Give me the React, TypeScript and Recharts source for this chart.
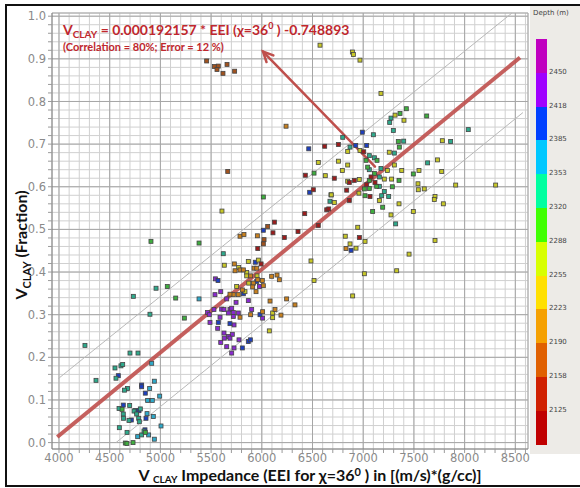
import React from "react";
import {
  ScatterChart,
  Scatter,
  XAxis,
  YAxis,
  CartesianGrid,
  ReferenceLine,
} from "recharts";

// EEI (x) vs Vclay (y) samples, grouped by the colour of their depth band
const darkRedPts = [
  [6423, 0.537], [6640, 0.546], [6660, 0.548], [6557, 0.509], [6124, 0.517],
  [6110, 0.492], [6222, 0.481], [6357, 0.495], [5960, 0.455], [5993, 0.419],
  [6620, 0.695], [6755, 0.699], [6429, 0.627], [6715, 0.62], [6508, 0.593],
  [7005, 0.682], [7077, 0.623], [6912, 0.615], [6863, 0.61], [7116, 0.61],
  [7034, 0.605], [6837, 0.592], [7067, 0.577], [6962, 0.481], [6863, 0.568],
];
const brownPts = [
  [6058, 0.507], [6022, 0.476], [6015, 0.466], [5664, 0.636], [5456, 0.895],
  [5532, 0.882], [5571, 0.883], [5558, 0.875], [5657, 0.887], [5617, 0.866],
  [5732, 0.871],
];
const orangePts = [
  [5785, 0.484], [5824, 0.488], [5956, 0.485], [5729, 0.419], [5736, 0.403],
  [5785, 0.405], [5818, 0.405], [5923, 0.409], [5950, 0.409], [5890, 0.391],
  [5960, 0.382], [6005, 0.38], [5917, 0.374], [6015, 0.368], [6097, 0.39],
  [6150, 0.393], [6173, 0.382], [5910, 0.365], [5808, 0.358], [5768, 0.347],
  [5943, 0.354], [5719, 0.347], [5686, 0.348], [6081, 0.332], [6245, 0.337],
  [6327, 0.323], [5890, 0.3], [6008, 0.307], [6130, 0.312], [6189, 0.299],
  [5785, 0.294], [6239, 0.742], [6830, 0.455],
];
const yellowPts = [
  [5607, 0.543], [5630, 0.416], [6715, 0.563], [5966, 0.428], [5867, 0.425],
  [5772, 0.411], [5851, 0.399], [5851, 0.391], [5953, 0.391], [5871, 0.374],
  [5752, 0.366], [5834, 0.354], [6107, 0.304], [6107, 0.293], [6074, 0.262],
  [6557, 0.657], [6755, 0.66], [6626, 0.626], [7175, 0.819], [7314, 0.768],
  [7402, 0.756], [6968, 0.685], [6847, 0.683], [7257, 0.681], [6794, 0.638],
  [6847, 0.651], [7238, 0.638], [7307, 0.651], [7380, 0.638], [7550, 0.638],
  [7733, 0.663], [7208, 0.618], [7280, 0.618], [6847, 0.613], [6961, 0.617],
  [6958, 0.585], [7543, 0.593], [7602, 0.595], [7708, 0.577], [6574, 0.932],
  [6893, 0.916], [6903, 0.91], [6968, 0.897], [7780, 0.708], [7774, 0.636],
  [7912, 0.604], [8306, 0.604], [7540, 0.607], [7701, 0.57], [7790, 0.56],
  [7494, 0.542], [7353, 0.56], [7274, 0.534], [7159, 0.568], [6946, 0.505],
  [6823, 0.484], [7018, 0.472], [6870, 0.466], [6929, 0.456], [7708, 0.474],
  [7452, 0.442], [7330, 0.403], [7011, 0.396], [6485, 0.426], [6515, 0.38],
  [6896, 0.344], [6685, 0.581],
];
const greenPts = [
  [4622, 0.078], [4851, 0.024], [4654, -0.001], [4670, -0.002], [4730, 0.0],
  [4907, 0.472], [5381, 0.468], [5068, 0.366], [5151, 0.339], [5236, 0.292],
  [6015, 0.576], [6515, 0.632], [6682, 0.581], [7425, 0.783], [7626, 0.766],
  [7363, 0.772], [7346, 0.706], [7356, 0.693], [7136, 0.662], [7028, 0.662],
  [7044, 0.646], [7494, 0.63], [7110, 0.631], [7353, 0.615], [7060, 0.615],
  [7133, 0.601], [7011, 0.595], [7060, 0.596], [7287, 0.6], [7018, 0.579],
  [7192, 0.552], [7093, 0.542],
];
const tealPts = [
  [4256, 0.228], [4365, 0.146], [4700, 0.21], [4779, 0.21], [4552, 0.175],
  [4611, 0.18], [4628, 0.183], [4562, 0.151], [4676, 0.127], [4646, 0.123],
  [4592, 0.08], [4697, 0.087], [4634, 0.067], [4637, 0.057], [4802, 0.079],
  [4740, 0.074], [4766, 0.067], [4690, 0.052], [4786, 0.057], [4792, 0.049],
  [4595, 0.035], [4671, 0.024], [4815, 0.018], [4838, 0.027], [4733, 0.343],
  [4957, 0.362], [4897, 0.301], [5620, 0.443], [6672, 0.566], [6798, 0.716],
  [7100, 0.722], [7297, 0.732], [7399, 0.707], [6870, 0.693], [7307, 0.679],
  [7060, 0.673], [7110, 0.668], [7060, 0.64], [7175, 0.643], [7635, 0.656],
  [7159, 0.623], [7159, 0.601], [7182, 0.579], [7251, 0.577], [7208, 0.589],
  [7274, 0.761], [7261, 0.751], [8036, 0.734], [7862, 0.706], [7320, 0.513],
];
const cyanPts = [
  [4914, 0.186], [4940, 0.144], [4894, 0.127], [4874, 0.099], [4920, 0.099],
  [4993, 0.109], [4868, 0.068], [4930, 0.061], [4776, 0.014], [4884, 0.018],
  [4940, 0.008], [5006, 0.039], [5381, 0.337],
];
const bluePts = [
  [4585, 0.157], [4815, 0.135], [4815, 0.131], [4851, 0.116], [4634, 0.088],
  [4752, 0.075], [4766, 0.072], [4789, 0.075], [4713, 0.053], [4858, 0.057],
  [4848, 0.03], [6015, 0.498], [5936, 0.423], [5950, 0.378], [5818, 0.349],
  [5568, 0.38], [5982, 0.3], [5571, 0.282], [5686, 0.279], [5808, 0.222],
  [5867, 0.237], [5887, 0.241], [6463, 0.689], [6472, 0.587], [6991, 0.728],
  [6926, 0.697], [7034, 0.697], [6880, 0.451],
];
const purplePts = [
  [5976, 0.366], [5542, 0.384], [5595, 0.354], [5538, 0.347], [5654, 0.337],
  [5867, 0.333], [5746, 0.329], [5465, 0.305], [5528, 0.312], [5604, 0.313],
  [5627, 0.312], [5686, 0.312], [5703, 0.315], [5670, 0.304], [5719, 0.305],
  [5768, 0.304], [5900, 0.312], [6008, 0.292], [5482, 0.3], [5588, 0.294],
  [5719, 0.296], [5489, 0.282], [5726, 0.276], [5565, 0.268], [5627, 0.257],
  [5709, 0.254], [5670, 0.249], [5630, 0.245], [5686, 0.245], [5775, 0.241],
  [5595, 0.235], [5654, 0.225], [5726, 0.222], [5703, 0.21],
];

// regression line and its +/- error lines
const fitLine = [[3983, 0.013], [8546, 0.903]];
const upperBound = [[3993, 0.15], [8467, 1.0075]];
const lowerBound = [[4562, 0.0], [8575, 0.774]];
const arrowFromTo = [[7116, 0.647], [6012, 0.917]];

const xTickLabels = [4000, 4500, 5000, 5500, 6000, 6500, 7000, 7500, 8000, 8500];
const yTickLabels = [0.0, 0.1, 0.2, 0.3, 0.4, 0.5, 0.6, 0.7, 0.8, 0.9, 1.0];

const depthLabels = [2450, 2418, 2385, 2353, 2320, 2288, 2255, 2223, 2190, 2158, 2125];
const depthColors = [
  "#c000c0", "#a000ff", "#0040ff", "#00c8ff", "#00ffa0", "#40ff00",
  "#d8ff00", "#ffe000", "#f5a000", "#e06000", "#d02000", "#c00000",
];

const groups = [
  { name: "purple", color: "#8a2ad0", pts: purplePts },
  { name: "blue", color: "#1d3fbf", pts: bluePts },
  { name: "cyan", color: "#2fa9c9", pts: cyanPts },
  { name: "teal", color: "#2eaa8c", pts: tealPts },
  { name: "green", color: "#3fae3f", pts: greenPts },
  { name: "yellow", color: "#c8c828", pts: yellowPts },
  { name: "orange", color: "#c8801e", pts: orangePts },
  { name: "brown", color: "#a0521e", pts: brownPts },
  { name: "darkred", color: "#9b1c1c", pts: darkRedPts },
];

const xMinor: number[] = [];
for (let v = 4000; v <= 8600; v += 100) xMinor.push(v);
const yMinor: number[] = [];
for (let i = 0; i <= 50; i++) yMinor.push(Math.round(i * 2) / 100);

const RED = "#c0272d";
const LINE_RED = "#bf4f4c";

const toSeg = (seg: number[][]) => seg.map(([x, y]) => ({ x, y }));

const squareShape = (color: string) => (props: any) => {
  const { cx, cy } = props;
  if (cx == null || cy == null) return <g />;
  return (
    <rect
      x={cx - 2}
      y={cy - 2}
      width={4}
      height={4}
      fill={color}
      stroke="#444"
      strokeWidth={0.8}
    />
  );
};

const ArrowShape = (props: any) => {
  const { x1, y1, x2, y2 } = props;
  if (x1 == null) return <g />;
  const ang = Math.atan2(y2 - y1, x2 - x1);
  const len = 11;
  const spread = 0.45;
  const ax = x2 - len * Math.cos(ang - spread);
  const ay = y2 - len * Math.sin(ang - spread);
  const bx = x2 - len * Math.cos(ang + spread);
  const by = y2 - len * Math.sin(ang + spread);
  return (
    <g stroke={LINE_RED} strokeWidth={2.5} strokeLinecap="round" fill="none">
      <line x1={x1} y1={y1} x2={x2} y2={y2} />
      <polyline points={`${ax},${ay} ${x2},${y2} ${bx},${by}`} />
    </g>
  );
};

export default function App() {
  return (
    <div
      style={{
        position: "absolute",
        left: 0,
        top: 0,
        width: 580,
        height: 488,
        background: "#fff",
        overflow: "hidden",
        fontFamily: "Lato, 'DejaVu Sans', sans-serif",
      }}
    >
      {/* colour bar panel */}
      <div
        style={{
          position: "absolute",
          left: 530,
          top: 6,
          width: 50,
          height: 448,
          background: "#edebe7",
        }}
      />
      <div
        style={{
          position: "absolute",
          left: 533,
          top: 9,
          fontSize: 7,
          color: "#444",
          fontFamily: "'DejaVu Sans', sans-serif",
        }}
      >
        Depth (m)
      </div>
      {depthColors.map((c, i) => (
        <div
          key={c}
          style={{
            position: "absolute",
            left: 536,
            top: 39 + i * 33.8,
            width: 11,
            height: 33.8,
            background: c,
          }}
        />
      ))}
      {depthLabels.map((d, i) => (
        <div
          key={d}
          style={{
            position: "absolute",
            left: 549,
            top: 39 + (i + 1) * 33.8 - 5,
            fontSize: 7,
            color: "#444",
            fontFamily: "'DejaVu Sans', sans-serif",
          }}
        >
          {d}
        </div>
      ))}

      <div style={{ position: "absolute", left: 0, top: 0 }}>
        <ScatterChart
          width={580}
          height={488}
          margin={{ top: 13, right: 52, bottom: 0, left: 0 }}
        >
          <CartesianGrid stroke="#d0d0d0" strokeWidth={1} />
          <XAxis
            type="number"
            dataKey="x"
            domain={[3931, 8625]}
            allowDataOverflow
            ticks={xMinor}
            interval={0}
            tickFormatter={(v: number) => (v % 500 === 0 ? String(v) : "")}
            tick={{ fill: "#8a8a8a", fontSize: 11.5, fontFamily: "'DejaVu Sans', sans-serif" }}
            tickLine={{ stroke: "#9a9a9a" }}
            tickSize={4}
            tickMargin={1}
            axisLine={{ stroke: "#7a7a7a" }}
            height={39}
          />
          <YAxis
            type="number"
            dataKey="y"
            domain={[-0.015, 1.0075]}
            allowDataOverflow
            ticks={yMinor}
            interval={0}
            tickFormatter={(v: number) =>
              Math.round(v * 100) % 10 === 0 ? v.toFixed(1) : ""
            }
            tick={{ fill: "#8a8a8a", fontSize: 11.5, fontFamily: "'DejaVu Sans', sans-serif" }}
            tickLine={{ stroke: "#9a9a9a" }}
            tickSize={4}
            axisLine={{ stroke: "#7a7a7a" }}
            width={52}
          />
          {xTickLabels.map((v) => (
            <ReferenceLine key={"vx" + v} x={v} stroke="#a6a6a6" strokeWidth={1} />
          ))}
          {yTickLabels.map((v) => (
            <ReferenceLine key={"hy" + v} y={v} stroke="#a6a6a6" strokeWidth={1} />
          ))}
          <ReferenceLine y={1.0075} stroke="#a6a6a6" />
          <ReferenceLine x={8625} stroke="#a6a6a6" />
          <ReferenceLine segment={toSeg(upperBound)} stroke="#b8b8b8" strokeWidth={1} />
          <ReferenceLine segment={toSeg(lowerBound)} stroke="#b8b8b8" strokeWidth={1} />
          {groups.map((g) => (
            <Scatter
              key={g.name}
              name={g.name}
              data={g.pts.map(([x, y]) => ({ x, y }))}
              shape={squareShape(g.color)}
              isAnimationActive={false}
            />
          ))}
          <ReferenceLine
            segment={toSeg(fitLine)}
            stroke={LINE_RED}
            strokeWidth={4}
            strokeOpacity={0.9}
          />
          <ReferenceLine segment={toSeg(arrowFromTo)} shape={ArrowShape} />
        </ScatterChart>
      </div>

      {/* equation annotation */}
      <div
        style={{
          position: "absolute",
          left: 63,
          top: 20,
          color: RED,
          fontWeight: 700,
          fontSize: 14,
          whiteSpace: "nowrap",
        }}
      >
        V<sub style={{ fontSize: 10 }}>CLAY</sub> = 0.000192157 * EEI (χ=36
        <sup style={{ fontSize: 9 }}>0</sup> ) -0.748893
      </div>
      <div
        style={{
          position: "absolute",
          left: 63,
          top: 40,
          color: RED,
          fontWeight: 700,
          fontSize: 11,
          whiteSpace: "nowrap",
        }}
      >
        (Correlation = 80%; Error = 12 %)
      </div>

      {/* axis titles */}
      <div
        style={{
          position: "absolute",
          left: 0,
          width: 620,
          top: 467,
          height: 16,
          lineHeight: "16px",
          textAlign: "center",
          fontWeight: 700,
          fontSize: 16,
          color: "#111",
          whiteSpace: "nowrap",
        }}
      >
        V{" "}
        <span style={{ fontSize: 10, position: "relative", top: 2 }}>CLAY</span>{" "}
        Impedance (EEI for χ=36
        <span style={{ fontSize: 11, position: "relative", top: -5 }}>0</span> ) in
        [(m/s)*(g/cc)]
      </div>
      <div
        style={{
          position: "absolute",
          left: 22,
          top: 245,
          transform: "translate(-50%, -50%) rotate(-90deg)",
          fontWeight: 700,
          fontSize: 16,
          color: "#111",
          whiteSpace: "nowrap",
        }}
      >
        V<sub style={{ fontSize: 11 }}>CLAY</sub> (Fraction)
      </div>

      {/* outer frame */}
      <div
        style={{
          position: "absolute",
          left: 5,
          top: 4,
          width: 580,
          height: 479,
          borderLeft: "2px solid #111",
          borderTop: "2px solid #111",
          borderBottom: "2px solid #111",
        }}
      />
    </div>
  );
}
